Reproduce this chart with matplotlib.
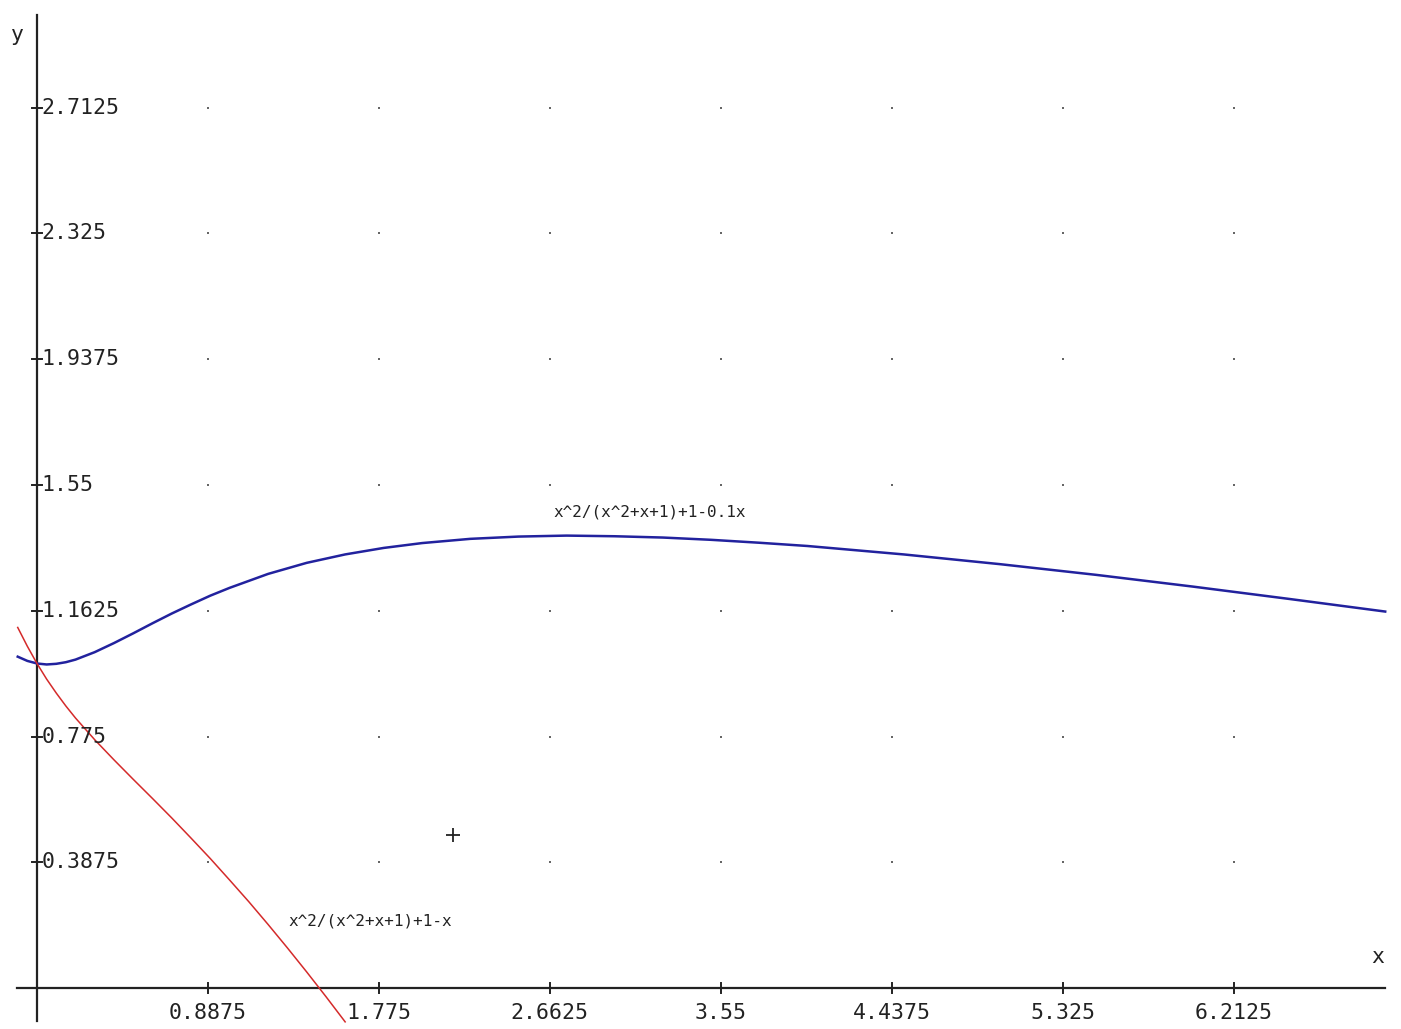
"""
Function plot: x^2/(x^2+x+1)+1-0.1x and x^2/(x^2+x+1)+1-x, old-style axes through origin.
"""
import matplotlib

matplotlib.use("Agg")
import matplotlib.pyplot as plt
import numpy as np

plt.rcParams["font.family"] = ["DejaVu Sans Mono"]

# values
blue_x = [-0.10, -0.05, 0.00, 0.05, 0.10, 0.15, 0.20, 0.30, 0.40, 0.50, 0.60, 0.70, 0.80,
          0.90, 1.00, 1.20, 1.40, 1.60, 1.80, 2.00, 2.25, 2.50, 2.75, 3.00, 3.25, 3.50,
          3.75, 4.00, 4.50, 5.00, 5.50, 6.00, 6.50, 7.00]
blue_y = [1.021, 1.008, 1.000, 0.997, 0.999, 1.004, 1.012, 1.035, 1.063, 1.093, 1.124, 1.154,
          1.182, 1.209, 1.233, 1.276, 1.310, 1.336, 1.356, 1.371, 1.384, 1.391, 1.394, 1.392,
          1.388, 1.381, 1.372, 1.362, 1.336, 1.306, 1.273, 1.237, 1.199, 1.160]

red_x = [-0.10, -0.05, 0.00, 0.05, 0.10, 0.15, 0.20, 0.30, 0.40, 0.50, 0.60, 0.70, 0.80,
         0.90, 1.00, 1.10, 1.20, 1.30, 1.40, 1.50, 1.60]
red_y = [1.111, 1.053, 1.000, 0.952, 0.909, 0.869, 0.832, 0.765, 0.703, 0.643, 0.584, 0.524,
         0.462, 0.399, 0.333, 0.266, 0.196, 0.124, 0.050, -0.026, -0.104]

x_ticks = [0.8875, 1.775, 2.6625, 3.55, 4.4375, 5.325, 6.2125]
x_tick_labels = ["0.8875", "1.775", "2.6625", "3.55", "4.4375", "5.325", "6.2125"]
y_ticks = [0.3875, 0.775, 1.1625, 1.55, 1.9375, 2.325, 2.7125]
y_tick_labels = ["0.3875", "0.775", "1.1625", "1.55", "1.9375", "2.325", "2.7125"]

blue_label = "x^2/(x^2+x+1)+1-0.1x"
red_label = "x^2/(x^2+x+1)+1-x"
cross_point = (2.16, 0.471)

BLUE = "#22229e"
RED = "#d42a2a"
INK = "#222222"
XMIN, XMAX = -0.192, 7.082
YMIN, YMAX = -0.126, 3.044

fig = plt.figure(figsize=(14.01, 10.29), dpi=100)
ax = fig.add_axes([0, 0, 1, 1])
ax.set_xlim(XMIN, XMAX)
ax.set_ylim(YMIN, YMAX)
ax.axis("off")

# grid dots at tick intersections
gx, gy = np.meshgrid(x_ticks, y_ticks)
ax.scatter(gx.ravel(), gy.ravel(), s=2.5, color="#666666", marker="s", linewidths=0)

# axes through the origin
ax.plot([-0.104, 7.0], [0, 0], color=INK, lw=1.6)
ax.plot([0, 0], [-0.1, 2.998], color=INK, lw=1.6)

# tick marks and labels
tick_dx = 0.026
tick_dy = 0.016
for xt, lab in zip(x_ticks, x_tick_labels):
    ax.plot([xt, xt], [-tick_dy, tick_dy], color=INK, lw=1.4)
    ax.text(xt, -0.078, lab, ha="center", va="center", fontsize=15.5, color=INK)
for yt, lab in zip(y_ticks, y_tick_labels):
    ax.plot([-tick_dx, tick_dx], [yt, yt], color=INK, lw=1.4)
    ax.text(0.022, yt, lab, ha="left", va="center", fontsize=15.5, color=INK)

ax.text(-0.099, 2.936, "y", ha="center", va="center", fontsize=15.5, color=INK)
ax.text(6.963, 0.095, "x", ha="center", va="center", fontsize=15.5, color=INK)

# curves
ax.plot(blue_x, blue_y, color=BLUE, lw=1.8)
ax.plot(red_x, red_y, color=RED, lw=1.1)

ax.text(2.68, 1.466, blue_label, ha="left", va="center", fontsize=11.5, color=INK)
ax.text(1.303, 0.206, red_label, ha="left", va="center", fontsize=11.5, color=INK)

ax.plot(*cross_point, marker="+", markersize=10, color=INK, mew=1.3)

fig.savefig("out.png", dpi=100)
